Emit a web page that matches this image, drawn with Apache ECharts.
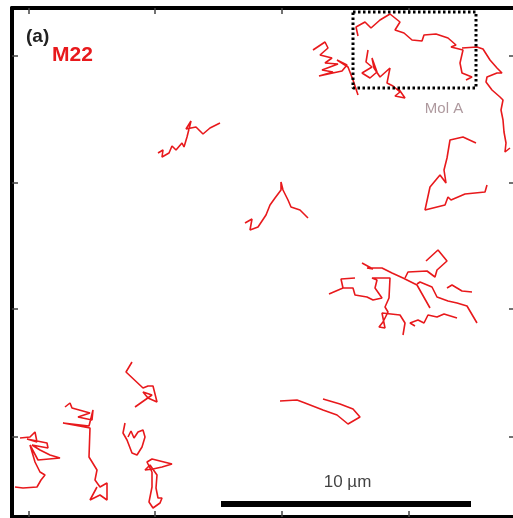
<!DOCTYPE html>
<html>
<head>
<meta charset="utf-8">
<script src="https://cdn.jsdelivr.net/npm/echarts@6/dist/echarts.min.js"></script>
<style>
  html, body { margin: 0; padding: 0; background: #fff; overflow: hidden; }
  #chart { width: 520px; height: 518px; }
</style>
</head>
<body>
<div id="chart"></div>
<script>
// M22 single-molecule trajectories. Positions in µm, x to the right,
// y downward from the top edge of the field (image orientation).
const track01 = [[6.32,6.12],[6.52,6.00],[6.48,6.28],[6.76,6.12],[6.88,5.84],[7.04,6.00],[7.28,5.72],[7.36,5.88],[7.48,5.48],[7.64,4.84],[7.44,5.16],[7.84,5.08],[8.12,5.36],[8.40,5.12],[8.80,4.92]];
const track02 = [[9.80,8.92],[10.08,8.76],[10.00,9.20],[10.32,9.08],[10.64,8.60],[10.80,8.20],[11.00,7.92],[11.24,7.60],[11.24,7.28],[11.32,7.60],[11.52,8.00],[11.64,8.28],[12.00,8.40],[12.32,8.72]];
const track03 = [[11.20,16.04],[11.88,16.00],[12.20,16.12],[12.92,16.40],[13.48,16.60],[13.92,16.96],[14.40,16.68],[14.12,16.36],[13.60,16.16],[12.92,15.96]];
const track04 = [[19.04,5.72],[18.52,5.48],[18.00,5.60],[17.88,6.32],[17.76,6.80],[17.84,7.32],[17.60,7.00],[17.20,7.48],[17.00,8.40],[17.80,8.20],[17.92,7.88],[18.04,8.00],[18.60,7.76],[19.40,7.68],[19.48,7.40]];
const track05 = [[18.48,1.92],[19.08,1.88],[19.32,1.96],[19.60,2.40],[19.88,2.72],[20.08,2.92],[19.88,2.92],[19.48,3.08],[19.44,3.28],[19.68,3.60],[20.00,3.88],[20.12,4.00],[20.04,4.40],[20.12,4.80],[20.16,5.28],[20.24,5.72],[20.20,6.08],[20.40,5.92]];
const track06 = [[12.52,2.00],[13.00,1.68],[13.12,1.92],[12.80,2.20],[13.28,2.32],[13.00,2.52],[13.52,2.56],[12.88,2.80],[13.32,2.88],[12.76,3.04],[13.68,2.84],[13.88,2.60],[13.48,2.40],[13.92,2.68],[14.12,3.20],[14.32,3.80]];
const trackMolA = [[14.32,1.44],[14.24,1.08],[14.60,0.88],[14.84,1.12],[15.20,0.80],[15.60,0.56],[16.00,0.88],[15.80,1.20],[16.16,1.32],[16.48,1.60],[16.88,1.64],[16.96,1.40],[17.44,1.36],[17.92,1.52],[18.24,1.80],[18.04,1.88],[18.52,2.00],[18.40,2.52],[18.48,2.92],[18.88,3.08],[18.64,3.20]];
const track08 = [[14.72,2.00],[14.64,2.48],[14.88,2.68],[14.48,2.92],[14.80,3.12],[15.08,2.88],[14.88,2.32],[14.96,2.72],[15.20,3.08],[15.60,2.72],[15.48,3.32],[15.72,3.44],[16.00,3.68],[15.80,3.84],[16.20,3.92],[15.92,3.52]];
const track09 = [[14.20,11.12],[13.64,11.16],[13.72,11.52],[13.16,11.76],[13.72,11.52],[14.12,11.52],[14.20,11.80],[14.68,11.88],[14.92,12.00],[15.28,11.92],[15.00,11.52],[15.08,11.20],[14.88,11.12],[15.60,11.12],[15.56,11.92],[15.40,12.28],[15.52,12.48],[15.32,12.88],[15.16,13.08],[15.40,13.12],[15.28,12.52],[16.00,12.60],[16.20,12.92],[16.12,13.40]];
const track10 = [[14.48,10.52],[14.92,10.76],[14.68,10.72],[15.28,10.72],[15.68,10.92],[16.12,11.12],[16.68,11.40],[17.20,12.32]];
const track11 = [[16.20,11.12],[16.32,10.88],[17.08,10.84],[17.40,11.08],[17.48,10.80],[17.88,10.44],[17.52,10.00],[17.04,10.44]];
const track12 = [[16.68,11.36],[16.80,11.28],[17.28,11.48],[17.48,11.88],[17.92,12.04],[18.28,12.12],[18.68,12.24],[19.08,12.92]];
const track13 = [[17.88,11.52],[18.08,11.40],[18.48,11.64],[18.88,11.68]];
const track14 = [[16.60,13.04],[16.40,12.92],[16.72,12.80],[16.96,12.92],[17.12,12.60],[17.48,12.68],[17.76,12.56],[18.28,12.72]];
const track15 = [[0.80,17.52],[1.20,17.48],[1.40,17.28],[1.48,17.68],[1.08,17.56],[1.88,17.72],[1.92,17.92],[1.28,17.80],[1.60,18.00],[2.00,18.20],[2.40,18.32],[1.52,18.40],[1.20,17.80],[1.40,18.48],[1.60,18.88],[1.80,19.00],[1.64,19.20],[1.48,19.48],[0.92,19.52],[0.60,19.48]];
const track16 = [[2.60,16.28],[2.80,16.12],[2.88,16.32],[3.60,16.52],[3.12,16.68],[3.68,16.80],[3.72,16.40],[3.56,17.04],[2.52,16.92],[3.60,17.12],[3.56,18.28],[3.88,18.80],[3.80,19.20],[4.00,19.48],[4.28,19.32],[4.28,20.00],[4.00,19.80],[3.60,20.00],[3.88,19.48]];
const track17 = [[5.28,14.48],[5.04,14.88],[5.72,15.52],[5.92,15.44],[6.12,15.44],[6.20,15.76],[6.28,16.08],[5.92,15.92],[5.72,15.68],[6.08,15.80],[5.40,16.28]];
const track18 = [[5.00,16.92],[4.92,17.32],[5.08,17.60],[5.28,18.12],[5.48,18.20],[5.68,17.88],[5.80,17.48],[5.72,17.20],[5.52,17.28],[5.36,17.52],[5.24,17.24],[5.12,17.48]];
const track19 = [[6.08,18.88],[5.88,18.48],[6.08,18.36],[6.40,18.44],[6.88,18.56],[6.48,18.68],[6.12,18.76],[5.80,18.80],[6.00,18.60],[6.28,19.00],[6.24,19.52],[6.32,19.92],[6.48,19.92],[6.40,20.12],[6.12,20.32],[5.96,20.08],[6.08,19.48],[6.08,18.88]];

const tracks = [track01, track02, track03, track04, track05, track06, trackMolA, track08,
  track09, track10, track11, track12, track13, track14, track15, track16, track17, track18, track19];

// Field of view and tick positions (µm)
const fieldX = [0.48, 20.6];
const fieldY = [0.32, 20.68];
const tickX = [1.16, 6.2, 11.28, 16.36];
const tickY = [2.24, 7.32, 12.36, 17.48];

// 10 µm scale bar and the region around molecule A
const scaleBar = [[8.84, 20.16], [18.84, 20.16]];
const scaleBarText = '10 µm';
const scaleBarTextPos = [13.9, 19.3];
const roiBox = [[14.12, 0.48], [19.04, 0.48], [19.04, 3.52], [14.12, 3.52], [14.12, 0.48]];
const roiText = 'Mol A';
const roiTextPos = [17.76, 4.36];

const panelTag = '(a)';
const sampleName = 'M22';

const TRACK_RED = '#e8191c';

function frameAxis(position, range, ticks, inverse) {
  return {
    type: 'value',
    position: position,
    min: range[0],
    max: range[1],
    inverse: inverse,
    axisLine: { show: true, onZero: false, lineStyle: { color: '#000', width: 4 } },
    axisTick: { show: true, inside: true, length: 6, customValues: ticks,
                lineStyle: { color: '#444', width: 1.5 } },
    axisLabel: { show: false },
    splitLine: { show: false }
  };
}

const series = tracks.map(function (t) {
  return {
    type: 'line',
    data: t,
    showSymbol: false,
    silent: true,
    lineStyle: { color: TRACK_RED, width: 1.6 },
    z: 3
  };
});

series.push({
  type: 'line',
  data: roiBox,
  showSymbol: false,
  silent: true,
  lineStyle: { color: '#000', width: 3, type: [2.5, 2.5] },
  z: 4
});

series.push({
  type: 'line',
  data: scaleBar,
  showSymbol: false,
  silent: true,
  lineStyle: { color: '#000', width: 6, cap: 'butt' },
  z: 4
});

series.push({
  type: 'scatter',
  data: [scaleBarTextPos],
  symbolSize: 0,
  silent: true,
  label: { show: true, position: 'inside', formatter: scaleBarText,
           color: '#111', fontSize: 17, fontFamily: 'Liberation Sans' },
  z: 5
});

series.push({
  type: 'scatter',
  data: [roiTextPos],
  symbolSize: 0,
  silent: true,
  label: { show: true, position: 'inside', formatter: roiText,
           color: '#9a7f86', fontSize: 15, fontFamily: 'Liberation Sans Narrow, Liberation Sans' },
  z: 5
});

const chart = echarts.init(document.getElementById('chart'), null, { renderer: 'canvas' });
chart.setOption({
  animation: false,
  backgroundColor: '#fff',
  grid: { left: 12, top: 8, right: 5, bottom: 1, containLabel: false },
  xAxis: [frameAxis('bottom', fieldX, tickX, false), frameAxis('top', fieldX, tickX, false)],
  yAxis: [frameAxis('left', fieldY, tickY, true), frameAxis('right', fieldY, tickY, true)],
  graphic: [
    { type: 'text', left: 26, top: 27, z: 10,
      style: { text: panelTag, fill: '#222', font: 'bold 19px Liberation Sans' } },
    { type: 'text', left: 52, top: 45, z: 10,
      style: { text: sampleName, fill: '#e8191c', font: 'bold 21px Liberation Sans Narrow, Liberation Sans' } }
  ],
  series: series
});
</script>
</body>
</html>
